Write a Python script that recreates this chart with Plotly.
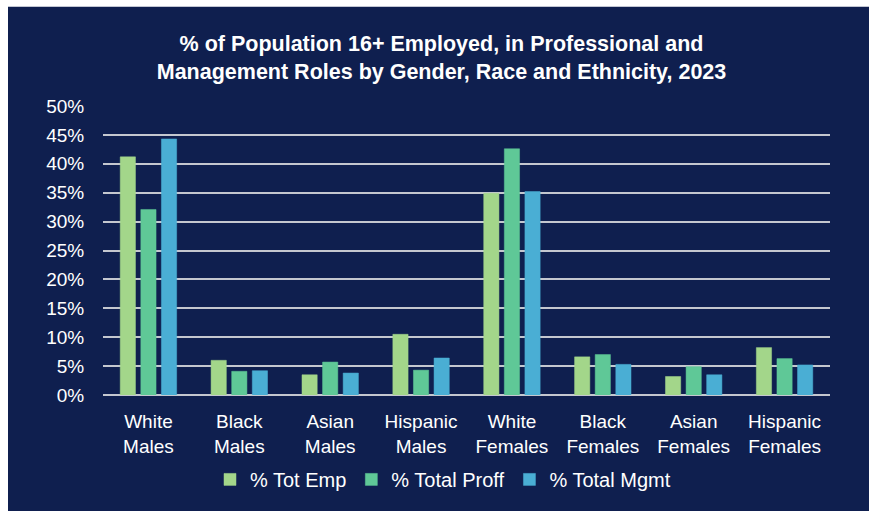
import plotly.graph_objects as go

categories = ["White<br>Males", "Black<br>Males", "Asian<br>Males", "Hispanic<br>Males",
              "White<br>Females", "Black<br>Females", "Asian<br>Females", "Hispanic<br>Females"]
tot_emp = [41.2, 6.0, 3.5, 10.5, 34.9, 6.6, 3.2, 8.2]
total_proff = [32.1, 4.1, 5.7, 4.3, 42.6, 7.0, 4.9, 6.3]
total_mgmt = [44.3, 4.2, 3.8, 6.4, 35.2, 5.3, 3.5, 5.2]
series_names = ["% Tot Emp", "% Total Proff", "% Total Mgmt"]
colors = ["#a3d68a", "#5fc897", "#4aaed4"]
y_ticks = [0, 5, 10, 15, 20, 25, 30, 35, 40, 45, 50]
y_labels = [f"{v}%" for v in y_ticks]

NAVY = "#0f1f4f"
GRID = "#c4c7cf"
FONT = "Liberation Sans, Arial, sans-serif"

fig = go.Figure()
for name, vals, col in zip(series_names, [tot_emp, total_proff, total_mgmt], colors):
    fig.add_trace(go.Bar(x=categories, y=vals, name=name,
                         marker=dict(color=col, line=dict(color=col, width=0.5))))

W, H = 869, 511
ml, mr, mt, mb = 103, 39, 106, 114
pw = W - ml - mr
ph = H - mt - mb

def px_to_xp(px):
    return (px - ml) / pw

def py_to_yp(py):
    return (H - mb - py) / ph

fig.update_layout(
    width=W, height=H,
    margin=dict(l=ml, r=mr, t=mt, b=mb, pad=0),
    paper_bgcolor=NAVY, plot_bgcolor=NAVY,
    font=dict(family=FONT, color="white", size=19),
    title=dict(text="<b>% of Population 16+ Employed, in Professional and<br>Management Roles by Gender, Race and Ethnicity, 2023</b>",
               x=441.5 / W, xanchor="center", y=1 - 51 / H, yanchor="middle",
               font=dict(family=FONT, size=21.5, color="white")),
    barmode="group", bargap=0.32, bargroupgap=0.26,
    showlegend=True,
    legend=dict(orientation="h", x=px_to_xp(443), xanchor="center",
                y=py_to_yp(482), yanchor="middle",
                font=dict(family=FONT, size=20, color="white"),
                bgcolor="rgba(0,0,0,0)", itemwidth=30, traceorder="normal"),
    shapes=[
        dict(type="rect", xref="paper", yref="paper",
             x0=px_to_xp(-5), x1=px_to_xp(8), y0=py_to_yp(520), y1=py_to_yp(-5),
             fillcolor="white", line=dict(width=0), layer="above"),
        dict(type="rect", xref="paper", yref="paper",
             x0=px_to_xp(-5), x1=px_to_xp(875), y0=py_to_yp(6), y1=py_to_yp(-5),
             fillcolor="white", line=dict(width=0), layer="above"),
    ],
)
fig.update_xaxes(showgrid=False, showline=False, zeroline=False,
                 ticks="outside", ticklen=9, tickcolor="rgba(0,0,0,0)",
                 tickfont=dict(family=FONT, size=19, color="white"))
fig.update_yaxes(range=[0, 50], tickvals=y_ticks, ticktext=y_labels,
                 showgrid=True, gridcolor=GRID, gridwidth=2,
                 zeroline=True, zerolinecolor=GRID, zerolinewidth=2,
                 showline=False, ticks="outside", ticklen=14, tickcolor="rgba(0,0,0,0)",
                 tickfont=dict(family=FONT, size=19, color="white"))

fig.write_html("out.html", config={"displayModeBar": False},
               post_script="document.body.style.margin='0';document.body.style.overflow='hidden';")
